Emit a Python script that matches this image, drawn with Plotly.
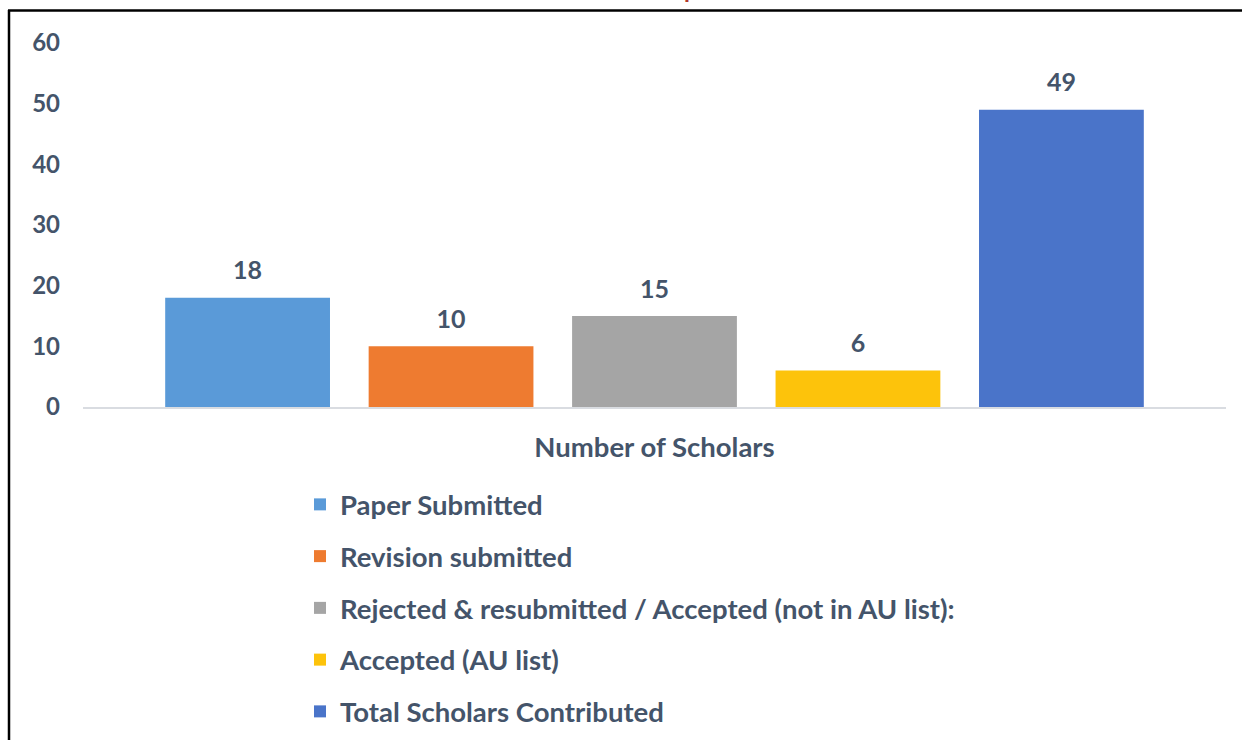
import plotly.graph_objects as go

categories = ["Number of Scholars"]
series_names = [
    "Paper Submitted",
    "Revision submitted",
    "Rejected & resubmitted / Accepted (not in AU list):",
    "Accepted (AU list)",
    "Total Scholars Contributed",
]
series_values = [18, 10, 15, 6, 49]
series_colors = ["#5A9AD8", "#EE7B30", "#A5A5A5", "#FDC30B", "#4A74C9"]
y_ticks = [0, 10, 20, 30, 40, 50, 60]

TXT = "#44546A"
FONT = "Lato"

W, H = 1242, 740
L, R, T, B = 83, 16, 43, 333
pw, ph = W - L - R, H - T - B


def px_x(p):
    return (p - L) / pw


def px_y(p):
    return (H - B - p) / ph


fig = go.Figure()
for i, (name, val, col) in enumerate(zip(series_names, series_values, series_colors)):
    fig.add_trace(go.Bar(
        x=categories, y=[val], name=name,
        marker=dict(color=col, line=dict(width=0)),
        legendgroup=f"g{i}",
        offsetgroup=f"o{i}", alignmentgroup="a",
    ))
for i, (name, val) in enumerate(zip(series_names, series_values)):
    fig.add_trace(go.Scatter(
        x=categories, y=[val], mode="markers+text",
        text=[str(val)], textposition="top center",
        textfont=dict(family=FONT, size=25, color=TXT, weight="bold"),
        marker=dict(size=18, color="rgba(0,0,0,0)"),
        showlegend=False, hoverinfo="skip", cliponaxis=False,
        offsetgroup=f"o{i}", alignmentgroup="a",
    ))

fig.update_layout(
    width=W, height=H,
    margin=dict(l=L, r=R, t=T, b=B, autoexpand=False),
    paper_bgcolor="white", plot_bgcolor="white",
    barmode="group", bargap=0.11, bargroupgap=0.19,
    scattermode="group", scattergap=0.11,
    font=dict(family=FONT, color=TXT, size=24, weight="bold"),
    showlegend=True,
    legend=dict(
        x=px_x(300), y=px_y(480), xanchor="left", yanchor="top",
        orientation="v", traceorder="grouped", tracegroupgap=13,
        font=dict(family=FONT, size=27.5, color=TXT, weight="bold"),
        bgcolor="rgba(0,0,0,0)",
    ),
    xaxis=dict(
        type="category", showline=True, linecolor="#D9DCE1", linewidth=2,
        showgrid=False, zeroline=False, ticks="", ticklabelstandoff=15,
        tickfont=dict(family=FONT, size=27.5, color=TXT, weight="bold"),
    ),
    yaxis=dict(
        range=[0, 60], tickvals=y_ticks, showgrid=False, zeroline=False,
        showline=False, ticks="", ticklabelstandoff=22,
        tickfont=dict(family=FONT, size=24, color=TXT, weight="bold"),
    ),
    shapes=[
        dict(type="line", xref="paper", yref="paper", x0=px_x(8), x1=px_x(1242),
             y0=px_y(10.5), y1=px_y(10.5), line=dict(color="black", width=2.5)),
        dict(type="line", xref="paper", yref="paper", x0=px_x(9), x1=px_x(9),
             y0=px_y(10), y1=px_y(740), line=dict(color="black", width=2.5)),
    ],
    annotations=[
        dict(text="p", xref="paper", yref="paper", x=px_x(691), y=px_y(5),
             xanchor="center", yanchor="bottom", showarrow=False,
             font=dict(family=FONT, size=24, color="#B0392E", weight="bold")),
    ],
)

fig.write_html(
    "out.html",
    config={"displayModeBar": False},
    post_script="document.body.style.margin='0';document.body.style.overflow='hidden';",
)
